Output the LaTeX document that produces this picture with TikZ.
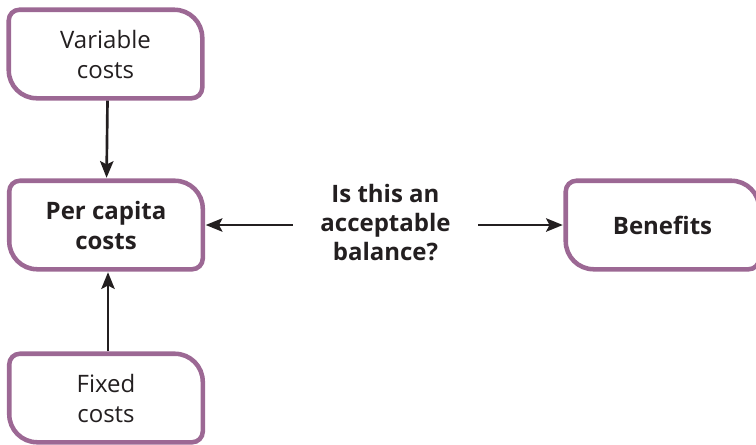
\documentclass[tikz,border=0pt]{standalone}
\usepackage{fontspec}
\setmainfont{Open Sans}
\usetikzlibrary{arrows.meta}

\definecolor{framepurple}{RGB}{156,104,148}
\definecolor{inkdark}{RGB}{35,31,32}

% outline with two soft and two strong corners
\newcommand{\leafframe}[1]{%
  \draw[frame] ([xshift=8pt]#1.north west) -- ([xshift=-21pt]#1.north east)
    arc[start angle=90, end angle=0, radius=21pt] -- ([yshift=8pt]#1.south east)
    arc[start angle=0, end angle=-90, radius=8pt] -- ([xshift=21pt]#1.south west)
    arc[start angle=270, end angle=180, radius=21pt] -- ([yshift=-8pt]#1.north west)
    arc[start angle=180, end angle=90, radius=8pt] -- cycle;}

\begin{document}
\begin{tikzpicture}[
            x=0.75pt, y=0.75pt,
            cost box/.style={minimum width=144.75pt,minimum height=66pt,inner sep=0pt,align=center,
                             text=inkdark,font=\fontsize{18}{22.5}\selectfont},
            question/.style={minimum width=138.75pt,inner sep=0pt,align=center,
                             text=inkdark,font=\fontsize{18}{21.75}\selectfont\bfseries},
            frame/.style={draw=framepurple,line width=3.4pt},
            every edge/.style={draw,inkdark,line width=2pt,shorten >=2.2pt,
                               -{Stealth[length=12.5pt,width=10pt,inset=2.5pt]}},
        ]
            \useasboundingbox (0,0) rectangle (756,-444);

            \node[cost box] (var) at (105.5,-54) {Variable\\costs};
            \node[cost box] (pc) at (106,-225) {\bfseries Per capita\\\bfseries costs};
            \node[cost box] (fix) at (106,-398) {Fixed\\costs};
            \node[cost box] (ben) at (662.5,-225) {\bfseries Benefits};
            \node[question] (q) at (385.5,-223) {Is this an\\acceptable\\balance?};

            \leafframe{var}
            \leafframe{pc}
            \leafframe{fix}
            \leafframe{ben}

            \path ([shift={(1.5pt,-1.7pt)}]var.south) edge (pc);
            \path ([shift={(1.5pt,1.7pt)}]fix.north) edge ([xshift=1.5pt]pc.south);
            \path (q.west |- pc) edge (pc);
            \path (q.east |- ben) edge (ben);
        \end{tikzpicture}
\end{document}
